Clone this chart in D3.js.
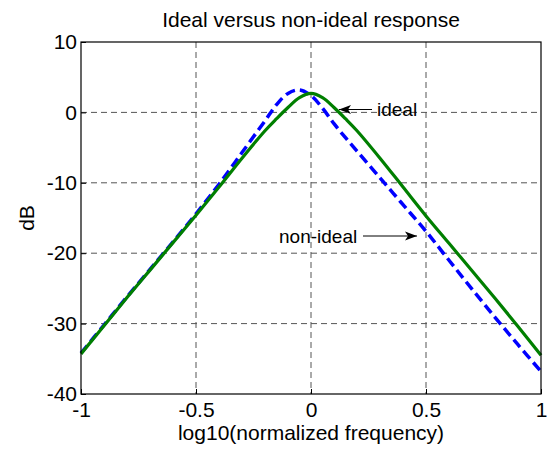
<!DOCTYPE html>
<html>
<head>
<meta charset="utf-8">
<script src="https://cdn.jsdelivr.net/npm/d3@7"></script>
<style>
  body { margin: 0; background: #fff; }
  text { font-family: "Liberation Sans", Arial, sans-serif; fill: #000; }
</style>
</head>
<body>
<div id="chart"></div>
<script>
// log10 of normalized frequency
var freqs = [-1, -0.9, -0.8, -0.7, -0.6, -0.5, -0.4, -0.3, -0.2, -0.15, -0.1, -0.05, 0, 0.05, 0.1, 0.15, 0.2, 0.3, 0.4, 0.5, 0.6, 0.7, 0.8, 0.9, 1];
var ideal = [-34.3, -30.3, -26.3, -22.4, -18.5, -14.6, -10.6, -6.5, -2.6, -0.9, 0.7, 2.1, 2.7, 2.1, 0.7, -0.9, -2.6, -6.5, -10.6, -14.7, -18.6, -22.5, -26.4, -30.4, -34.5];
var nonIdeal = [-34.2, -30.2, -26.2, -22.3, -18.4, -14.4, -10.2, -5.7, -1.2, 1.1, 2.7, 3.2, 2.4, 0.6, -1.6, -3.6, -5.5, -9.3, -13.1, -16.9, -21.0, -25.1, -29.1, -33.0, -36.8];
var xTicks = [-1, -0.5, 0, 0.5, 1];
var yTicks = [10, 0, -10, -20, -30, -40];

var w = 547, h = 450;
var margin = {top: 42, right: 6, bottom: 56, left: 81};

var svg = d3.select("#chart").append("svg")
	.attr("width", w)
	.attr("height", h)

var x = d3.scaleLinear()
			.domain([-1, 1])
			.range([margin.left, w - margin.right])

var y = d3.scaleLinear()
			.domain([-40, 10])
			.range([h - margin.bottom, margin.top])

// grid
svg.selectAll(".vgrid")
	.data(xTicks.filter(function(d) { return d > -1 && d < 1; }))
	.enter()
	.append("line")
	.attr("x1", function(d) { return x(d) })
	.attr("x2", function(d) { return x(d) })
	.attr("y1", y(10))
	.attr("y2", y(-40))
	.style("stroke", "#555")
	.style("stroke-dasharray", "6,4")

svg.selectAll(".hgrid")
	.data(yTicks.filter(function(d) { return d > -40 && d < 10; }))
	.enter()
	.append("line")
	.attr("x1", x(-1))
	.attr("x2", x(1))
	.attr("y1", function(d) { return y(d) })
	.attr("y2", function(d) { return y(d) })
	.style("stroke", "#555")
	.style("stroke-dasharray", "6,4")

var line = d3.line()
	.x(function(d, i) { return x(freqs[i]) })
	.y(function(d) { return y(d) })
	.curve(d3.curveCatmullRom)

svg.append("path")
	.datum(nonIdeal)
	.attr("d", line)
	.style("fill", "none")
	.style("stroke", "#0000ff")
	.style("stroke-width", 3.5)
	.style("stroke-dasharray", "10,5")

svg.append("path")
	.datum(ideal)
	.attr("d", line)
	.style("fill", "none")
	.style("stroke", "#007f00")
	.style("stroke-width", 3.2)

// axes box, hyphen minus like matlab
var fmt = function(d) { return String(d) };
var xAxis = d3.axisBottom(x).tickValues(xTicks).tickSize(-5).tickPadding(10).tickFormat(fmt);
var yAxis = d3.axisLeft(y).tickValues(yTicks).tickSize(-5).tickPadding(4).tickFormat(fmt);

var gx = svg.append("g")
	.attr("transform", "translate(0," + y(-40) + ")")
	.call(xAxis)
var gy = svg.append("g")
	.attr("transform", "translate(" + x(-1) + ",0)")
	.call(yAxis)

svg.selectAll(".tick text")
	.style("font-family", "Liberation Sans, Arial, sans-serif")
	.style("font-size", "21px")
	.style("fill", "#000")
gx.selectAll(".tick text").attr("dy", "0.6em")
svg.selectAll(".domain").remove()
svg.selectAll(".tick line").style("stroke", "#000")

svg.append("rect")
	.attr("x", x(-1))
	.attr("y", y(10))
	.attr("width", x(1) - x(-1))
	.attr("height", y(-40) - y(10))
	.style("fill", "none")
	.style("stroke", "#000")
	.style("stroke-width", 1.2)

// labels
svg.append("text")
	.text("Ideal versus non-ideal response")
	.attr("x", (x(-1) + x(1)) / 2)
	.attr("y", 26.5)
	.style("font-size", "21px")
	.style("text-anchor", "middle")

svg.append("text")
	.text("log10(normalized frequency)")
	.attr("x", (x(-1) + x(1)) / 2)
	.attr("y", 440)
	.style("font-size", "21px")
	.style("text-anchor", "middle")

svg.append("text")
	.text("dB")
	.attr("transform", "translate(34," + y(-15) + ") rotate(-90)")
	.style("font-size", "21px")
	.style("text-anchor", "middle")

// annotations with arrows
svg.append("defs").append("marker")
	.attr("id", "arrow")
	.attr("viewBox", "0 -5 12 10")
	.attr("refX", 12)
	.attr("refY", 0)
	.attr("markerWidth", 12)
	.attr("markerHeight", 10)
	.attr("markerUnits", "userSpaceOnUse")
	.attr("orient", "auto")
	.append("path")
	.attr("d", "M0,-4.5L12,0L0,4.5L3,0Z")
	.style("fill", "#000")

var notes = [
	{label: "ideal", tx: 377, ty: 116, x1: 372, y1: 109.5, x2: 339, y2: 109.5},
	{label: "non-ideal", tx: 279, ty: 243, x1: 363, y1: 236, x2: 417, y2: 236}
];

svg.selectAll(".noteline")
	.data(notes)
	.enter()
	.append("line")
	.attr("x1", function(d) { return d.x1 })
	.attr("y1", function(d) { return d.y1 })
	.attr("x2", function(d) { return d.x2 })
	.attr("y2", function(d) { return d.y2 })
	.style("stroke", "#000")
	.style("stroke-width", 1)
	.attr("marker-end", "url(#arrow)")

svg.selectAll(".notetext")
	.data(notes)
	.enter()
	.append("text")
	.text(function(d) { return d.label })
	.attr("x", function(d) { return d.tx })
	.attr("y", function(d) { return d.ty })
	.style("font-size", "19px")
</script>
</body>
</html>
